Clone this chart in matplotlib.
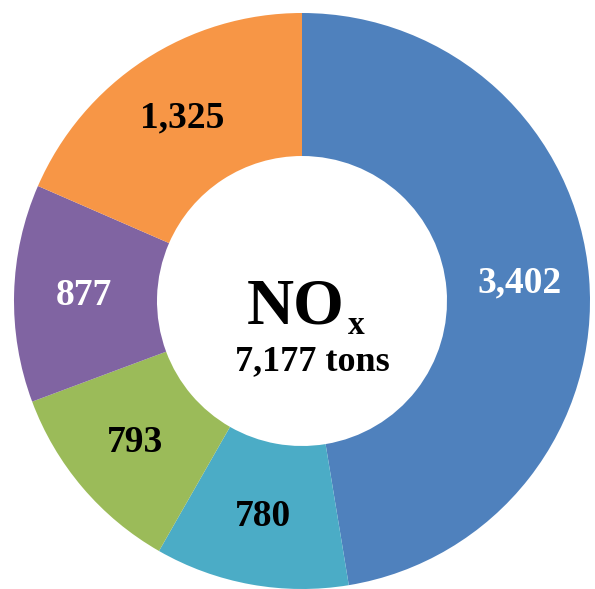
import numpy as np
import matplotlib
matplotlib.use("Agg")
import matplotlib.pyplot as plt

categories = ["A", "B", "C", "D", "E"]
values = [3402, 780, 793, 877, 1325]
labels = ["3,402", "780", "793", "877", "1,325"]
colors = ["#4F81BD", "#4BACC6", "#9BBB59", "#8064A2", "#F79646"]
label_colors = ["white", "black", "black", "white", "black"]
center_title = "NO"
center_sub = "x"
center_total = "7,177 tons"

W, H = 595, 589
fig = plt.figure(figsize=(W / 100, H / 100), dpi=100)
ax = fig.add_axes([0, 0, 1, 1])

cx, cy = 302, H - 301
R = 288
inner = 145
wedges, _ = ax.pie(values, colors=colors, startangle=90, counterclock=False,
                   center=(cx, cy), radius=R, frame=True,
                   wedgeprops=dict(width=R - inner, linewidth=0))
ax.set_xlim(0, W)
ax.set_ylim(0, H)
ax.set_aspect("equal")
ax.axis("off")

font = "Liberation Serif"
rmid = (R + inner) / 2 + 2
for w, lab, c in zip(wedges, labels, label_colors):
    ang = np.deg2rad((w.theta1 + w.theta2) / 2)
    ax.text(cx + rmid * np.cos(ang), cy + rmid * np.sin(ang), lab,
            ha="center", va="center", fontsize=27, fontweight="bold",
            family=font, color=c)

ax.text(cx - 6, cy - 23, center_title, ha="center", va="baseline", fontsize=47,
        fontweight="bold", family=font, color="black")
ax.text(cx + 54, cy - 33, center_sub, ha="center", va="baseline", fontsize=24,
        fontweight="bold", family=font, color="black")
ax.text(cx + 10, cy - 69, center_total, ha="center", va="baseline", fontsize=26,
        fontweight="bold", family=font, color="black")

fig.savefig("out.png", dpi=100, facecolor="white")
